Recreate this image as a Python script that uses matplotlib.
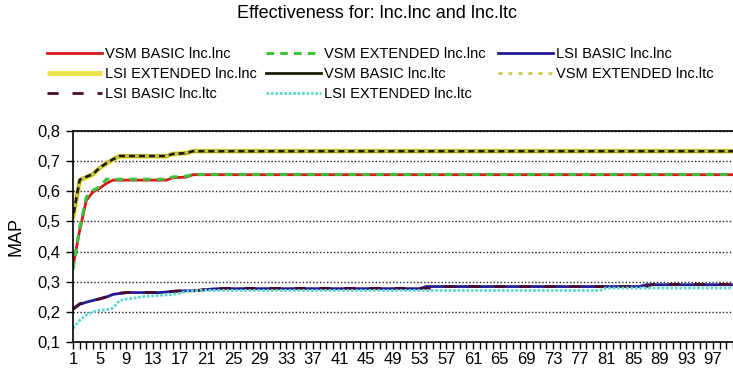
import matplotlib.pyplot as plt
from matplotlib.ticker import FuncFormatter
import numpy as np

# MAP per number of retrieved documents, runs 1..100
ranks = list(range(1, 101))

vsm_basic_lnc = [0.35, 0.47, 0.57, 0.598, 0.61, 0.626, 0.637] + [0.637] * 8 \
    + [0.645, 0.646, 0.647] + [0.655] * 82
vsm_ext_lnc = [0.34, 0.48, 0.58, 0.603, 0.615, 0.64, 0.64] + [0.64] * 8 \
    + [0.648, 0.648, 0.65] + [0.656] * 82
lsi_basic_lnc = [0.208, 0.225, 0.232, 0.238, 0.243, 0.249, 0.258, 0.261, 0.264] + [0.264] * 5 \
    + [0.266, 0.268, 0.269, 0.27, 0.27, 0.271, 0.274, 0.276, 0.277] + [0.277] * 30 \
    + [0.284] * 33 + [0.29] * 14
lsi_ext_lnc = [0.51, 0.635, 0.646, 0.656, 0.677, 0.692, 0.705, 0.716] + [0.716] * 7 \
    + [0.724, 0.725, 0.727] + [0.733] * 82
vsm_basic_ltc = [0.515, 0.638, 0.648, 0.657, 0.678, 0.693, 0.706, 0.717] + [0.717] * 7 \
    + [0.724, 0.725, 0.727] + [0.733] * 82
vsm_ext_ltc = [0.515, 0.638, 0.648, 0.657, 0.678, 0.693, 0.706, 0.717] + [0.717] * 7 \
    + [0.725, 0.725, 0.728] + [0.733] * 82
lsi_basic_ltc = [0.21, 0.227, 0.233, 0.238, 0.243, 0.25, 0.259, 0.262, 0.264] + [0.264] * 5 \
    + [0.266, 0.268, 0.27, 0.27, 0.27, 0.272, 0.275, 0.276, 0.277] + [0.278] * 32 \
    + [0.284] * 32 + [0.291] * 13
lsi_ext_ltc = [0.145, 0.172, 0.19, 0.2, 0.205, 0.207, 0.213, 0.238, 0.242, 0.245, 0.249,
               0.252, 0.253, 0.255, 0.256, 0.258, 0.262, 0.268, 0.27, 0.271, 0.272] \
    + [0.271] * 59 + [0.279] * 20

narrow = ['Liberation Sans Narrow', 'Liberation Sans', 'DejaVu Sans']
plt.rcParams['font.family'] = ['Liberation Sans', 'DejaVu Sans']

fig = plt.figure(figsize=(7.33, 3.73), dpi=100)
ax = fig.add_axes([0.0996, 0.0831, 0.9004, 0.5657])

x = np.array(ranks)
l4, = ax.plot(x, lsi_ext_lnc, color='#f0e24a', lw=3.6, solid_capstyle='butt')
l5, = ax.plot(x, vsm_basic_ltc, color='#1c1c08', lw=2)
l6, = ax.plot(x, vsm_ext_ltc, color='#cccc44', lw=2, linestyle=(0, (1.4, 2.2)))
l1, = ax.plot(x, vsm_basic_lnc, color='#d51a1a', lw=2)
l2, = ax.plot(x, vsm_ext_lnc, color='#3cc23c', lw=2.2, linestyle=(0, (2.5, 2)))
l3, = ax.plot(x, lsi_basic_lnc, color='#221c96', lw=2)
l7, = ax.plot(x, lsi_basic_ltc, color='#4a0a2e', lw=2, linestyle=(0, (4, 5)))
l8, = ax.plot(x, lsi_ext_ltc, color='#5fd6d0', lw=2, linestyle=(0, (1, 0.6)))

ax.set_xlim(1, 99.2)
ax.set_ylim(0.1, 0.8)
ax.set_yticks(np.arange(0.1, 0.81, 0.1))
ax.yaxis.set_major_formatter(FuncFormatter(lambda v, p: f'{v:.1f}'.replace('.', ',')))
ax.set_xticks(ranks)
ax.set_xticklabels([str(r) if (r - 1) % 4 == 0 else '' for r in ranks])
ax.tick_params(axis='both', direction='out', length=5, width=1, labelsize=12, colors='black')
ax.tick_params(axis='x', pad=2)
ax.tick_params(axis='y', pad=4)
ax.set_axisbelow(True)
ax.yaxis.grid(True, color='#222222', linestyle=(0, (1, 1.5)), linewidth=1.0)
ax.spines['right'].set_visible(False)
for s in ['left', 'bottom', 'top']:
    ax.spines[s].set_linewidth(1.2)
ax.set_ylabel('MAP', fontsize=13, labelpad=9)

fig.text(0.515, 1 - 14 / 373, 'Effectiveness for: lnc.lnc and lnc.ltc',
         ha='center', va='center', fontsize=13, family=narrow)

columns = [
    ([l1, l4, l7], ['VSM BASIC lnc.lnc', 'LSI EXTENDED lnc.lnc', 'LSI BASIC lnc.ltc'], 47),
    ([l2, l5, l8], ['VSM EXTENDED lnc.lnc', 'VSM BASIC lnc.ltc', 'LSI EXTENDED lnc.ltc'], 266),
    ([l3, l6], ['LSI BASIC lnc.lnc', 'VSM EXTENDED lnc.ltc'], 498),
]
for handles, labels, xpix in columns:
    leg = fig.legend(handles, labels, loc='upper left',
                     bbox_to_anchor=(xpix / 733, 1 - 47 / 373),
                     frameon=False, borderpad=0, borderaxespad=0,
                     handlelength=3.8, handletextpad=0.15, labelspacing=0.42,
                     prop={'family': narrow, 'size': 10.5})

fig.savefig('out.png', dpi=100)
